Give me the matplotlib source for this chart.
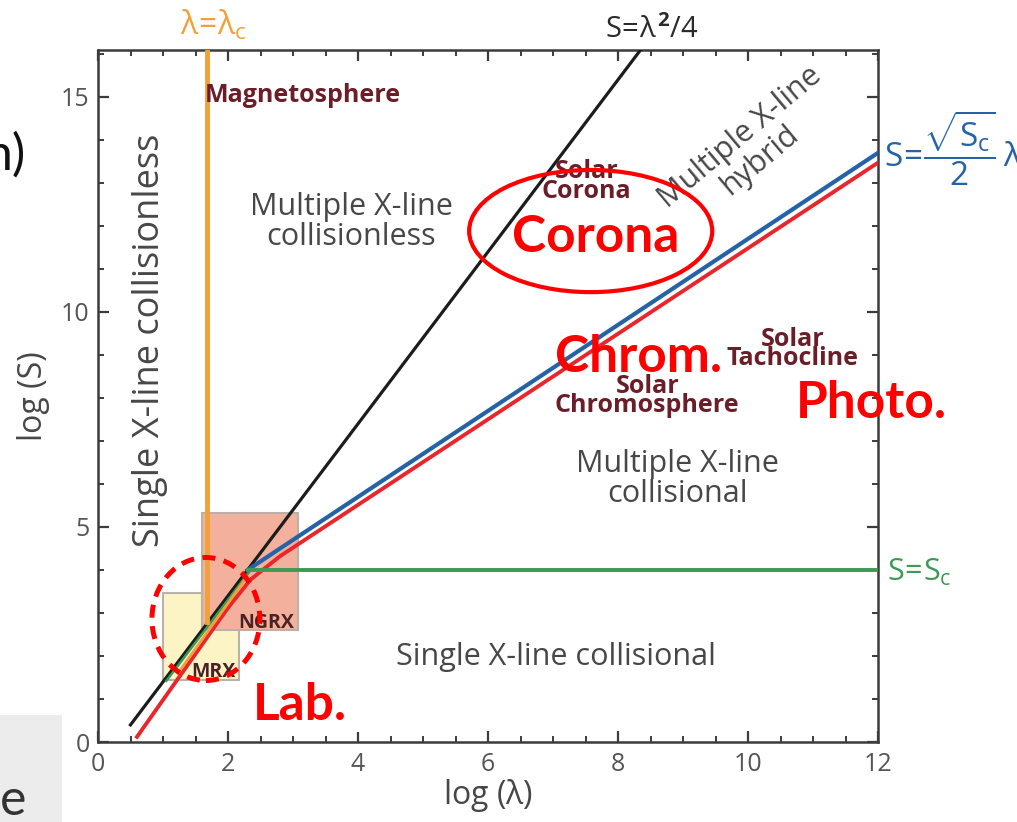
import numpy as np
import matplotlib
matplotlib.use("Agg")
import matplotlib.pyplot as plt
import matplotlib.patches as patches
from matplotlib.ticker import MultipleLocator

plt.rcParams['font.family'] = ['Open Sans', 'DejaVu Sans']
plt.rcParams['mathtext.fontset'] = 'custom'
plt.rcParams['mathtext.rm'] = 'Open Sans'
plt.rcParams['mathtext.it'] = 'Open Sans'
plt.rcParams['mathtext.bf'] = 'Open Sans:bold'

# phase diagram parameters (log10 units)
log_Sc = 4.0          # critical Lundquist number
log_lam_c = 1.68      # lambda = lambda_c
lam_black = np.array([0.5, 8.6])
lam_blue_end = 12.0

# red overlay line
red_lam = [0.6, 2.0, 2.35, 2.8, 12.0]
red_S = [0.12, 3.12, 3.78, 4.32, 13.47]

# short segments in the lab corner
orange_lam = [1.23, 2.29]
orange_S = [1.6, 3.84]
green_lam = [1.05, 2.35]
green_S = [1.42, 4.0]
lam_c_bottom = 2.8

# experiment boxes: (lam0, lam1, S0, S1)
mrx_box = (1.0, 2.17, 1.44, 3.47)
ngrx_box = (1.6, 3.08, 2.6, 5.33)

BLACK = '#1c1c1c'
BLUE = '#2563a6'
RED = '#e8262b'
ORANGE = '#f2a13a'
GREEN = '#3d9a55'
MAROON = '#6a1e28'
GRAY = '#474747'
ANNOT = '#ff0000'

fig = plt.figure(figsize=(10.17, 8.22), dpi=100)
ax = fig.add_axes([98 / 1017, 80 / 822, 780 / 1017, 692 / 822])
ax.set_xlim(0, 12)
ax.set_ylim(0, 16.09)

# boxes
for (x0, x1, y0, y1), fc in [(mrx_box, '#fcf4c4'), (ngrx_box, '#f3b19d')]:
    ax.add_patch(patches.Rectangle((x0, y0), x1 - x0, y1 - y0, facecolor=fc,
                                   edgecolor='#b7b2aa', lw=1.5, zorder=1))

# boundary lines
x_int = 0.5 * log_Sc + np.log10(2)           # where S = lam^2/4 meets S = sqrt(Sc)/2 lam
lam_blue = np.array([x_int, lam_blue_end])
ax.plot(lam_black, 2 * lam_black - np.log10(4), color=BLACK, lw=2.3, zorder=3)
ax.plot(lam_blue, 0.5 * log_Sc - np.log10(2) + lam_blue, color=BLUE, lw=3.0, zorder=3)
ax.plot(red_lam, red_S, color=RED, lw=2.8, zorder=3)
ax.plot([x_int, 12], [log_Sc, log_Sc], color=GREEN, lw=2.8, zorder=3)
ax.plot(green_lam, green_S, color=GREEN, lw=1.8, zorder=3)
ax.plot(orange_lam, orange_S, color=ORANGE, lw=2.0, zorder=3)
ax.plot([log_lam_c, log_lam_c], [lam_c_bottom, 16.09], color=ORANGE, lw=3.5, zorder=3)

# regions (multi-line labels sit on the baseline of their last line)
ax.text(3.15, 14.88, 'Magnetosphere', color=MAROON, fontsize=18, fontweight='bold',
        ha='center', va='baseline')
ax.text(0.8, 9.33, 'Single X-line collisionless', color=GRAY, fontsize=26,
        rotation=90, ha='center', va='center')
ax.text(3.9, 11.56, 'Multiple X-line\ncollisionless', color=GRAY, fontsize=22,
        ha='center', va='baseline', linespacing=0.98)
ax.text(7.52, 12.65, 'Solar\nCorona', color=MAROON, fontsize=18, fontweight='bold',
        ha='center', va='baseline', linespacing=0.72)
ax.text(10.03, 13.79, 'Multiple X-line\nhybrid', color=GRAY, fontsize=22, rotation=40,
        ha='center', va='center', rotation_mode='anchor', linespacing=0.98)
ax.text(10.69, 8.77, 'Solar\nTachocline', color=MAROON, fontsize=18, fontweight='bold',
        ha='center', va='baseline', linespacing=0.66)
ax.text(8.45, 7.67, 'Solar\nChromosphere', color=MAROON, fontsize=18, fontweight='bold',
        ha='center', va='baseline', linespacing=0.68)
ax.text(8.92, 5.58, 'Multiple X-line\ncollisional', color=GRAY, fontsize=22,
        ha='center', va='baseline', linespacing=0.98)
ax.text(7.04, 1.79, 'Single X-line collisional', color=GRAY, fontsize=22,
        ha='center', va='baseline')
ax.text(2.59, 2.65, 'NGRX', color='#4a2226', fontsize=14, fontweight='bold',
        ha='center', va='baseline', zorder=4)
ax.text(1.77, 1.51, 'MRX', color='#4a2226', fontsize=14, fontweight='bold',
        ha='center', va='baseline', zorder=4)

# highlighted regimes
ax.add_patch(patches.Ellipse((7.58, 11.88), 3.74, 2.84, fill=False, edgecolor=ANNOT,
                             lw=3.0, zorder=5))
ax.add_patch(patches.Ellipse((1.66, 2.86), 1.66, 2.86, fill=False, edgecolor=ANNOT,
                             lw=3.6, ls=(0, (2.6, 1.7)), zorder=5))
ax.add_patch(patches.Rectangle((2.23, 0.23), 2.34, 1.1, facecolor='white',
                               edgecolor='none', zorder=5))
for x, y, s in [(7.65, 11.4, 'Corona'), (8.32, 8.6, 'Chrom.'),
                (11.9, 7.53, 'Photo.'), (3.1, 0.51, 'Lab.')]:
    ax.text(x, y, s, color=ANNOT, fontsize=37, fontweight='bold', family='Lato',
            ha='center', va='baseline', zorder=6, clip_on=False)

# line labels
fig.text(213 / 1017, 1 - 35 / 822, r'$\lambda\!=\!\lambda_c$', color=ORANGE,
         fontsize=23, ha='center', va='baseline')
fig.text(652 / 1017, 1 - 38 / 822, r'$S\!=\!\lambda^\mathbf{2}/4$', color='#2a2a2a',
         fontsize=21, ha='center', va='baseline')
fig.text(884 / 1017, 1 - 148 / 822, r'$S\!=\!\dfrac{\sqrt{S_c}}{2}\,\lambda$', color=BLUE,
         fontsize=24, ha='left', va='center')
fig.text(887 / 1017, 1 - 572 / 822, r'$S\!=\!S_c$', color=GREEN,
         fontsize=22, ha='left', va='center')

# axes styling
for sp in ax.spines.values():
    sp.set_color('#3c3c3c')
    sp.set_linewidth(1.8)
ax.xaxis.set_major_locator(MultipleLocator(2))
ax.xaxis.set_minor_locator(MultipleLocator(0.5))
ax.yaxis.set_major_locator(MultipleLocator(5))
ax.yaxis.set_minor_locator(MultipleLocator(1))
ax.tick_params(which='both', direction='in', top=True, right=True, color='#3c3c3c',
               labelsize=18, labelcolor='#555555')
ax.tick_params(which='major', length=8, width=1.6)
ax.tick_params(which='minor', length=4.5, width=1.4)
ax.tick_params(axis='x', pad=7)
ax.tick_params(axis='y', pad=6)
ax.set_xlabel(r'log ($\lambda$)', fontsize=23, color=GRAY, labelpad=0)
ax.set_ylabel('log (S)', fontsize=23, color=GRAY, labelpad=8)

# slide fragments around the figure
fig.patches.append(patches.Rectangle((0, 0), 62 / 1017, 107 / 822, transform=fig.transFigure,
                                     facecolor='#ececec', edgecolor='none'))
fig.text(26 / 1017, 1 - 170 / 822, 'n)', fontsize=36, family='Lato', color='#111111',
         ha='right', va='baseline')
fig.text(0, 1 - 815 / 822, 'e', fontsize=36, family='Lato', color='#333333',
         ha='left', va='baseline')

fig.savefig('out.png', dpi=100, facecolor='white')
